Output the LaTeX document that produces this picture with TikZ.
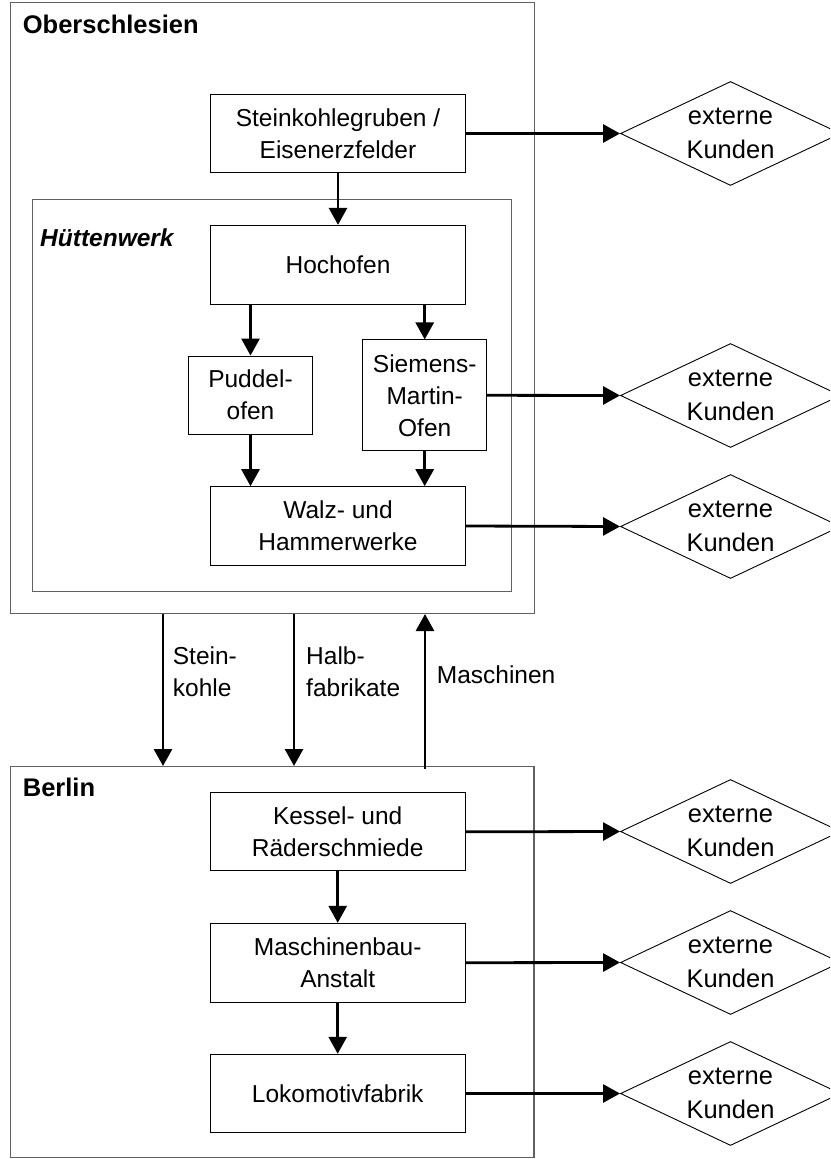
\documentclass[tikz,border=0pt]{standalone}
\usepackage{fontspec}
\setmainfont{Liberation Sans}
\usetikzlibrary{arrows.meta,shapes.geometric}
\begin{document}
\begin{tikzpicture}[x=1pt,y=-1pt,
  txt/.style={font=\fontsize{24.5}{32}\selectfont, align=center},
  ttl/.style={font=\fontsize{25.5}{32}\selectfont\bfseries, inner sep=0pt, anchor=base west},
  box/.style={draw=black, line width=1pt, inner sep=0pt, txt},
  area/.style={draw=black!62, line width=1.4pt, inner sep=0pt},
  kunde/.style={diamond, draw=black, line width=0.9pt, inner sep=0pt,
    minimum width=220pt, minimum height=104pt,
    label={[font=\fontsize{25.5}{34}\selectfont, align=center]center:{externe\\Kunden}}},
  flow/.style={line width=2.8pt, -{Triangle[length=17pt,width=18pt]}},
  lbl/.style={font=\fontsize{24.5}{32}\selectfont, align=left, inner sep=0pt}
]
\useasboundingbox (0,0) rectangle (830,1159);
\clip (0,0) rectangle (830,1159);

% containers
\node[area, minimum width=523.6pt, minimum height=610.6pt] (ober) at (272.5,308) {};
\node[area, minimum width=479.4pt, minimum height=392.4pt] (huette) at (272,395.5) {};
\node[area, minimum width=523.3pt, minimum height=390.8pt] (berlin) at (272.3,962.1) {};

\node[ttl] (tober) at (22.7,33.3) {Oberschlesien};
\node[ttl, font=\fontsize{24.5}{32}\selectfont\bfseries\itshape] (thuette) at (40,246.7) {Hüttenwerk};
\node[ttl] (tberlin) at (22.7,796.7) {Berlin};

% process boxes
\node[box, minimum width=255pt, minimum height=78.4pt] (sk) at (338,133.5) {Steinkohlegruben /\\Eisenerzfelder};
\node[box, minimum width=255pt, minimum height=78.7pt] (hoch) at (338,264.7) {Hochofen};
\node[box, minimum width=124.4pt, minimum height=78.3pt] (pud) at (250.5,395.2) {Puddel-\\ofen};
\node[box, minimum width=124pt, minimum height=110.7pt] (sm) at (424.7,395.3) {Siemens-\\Martin-\\Ofen};
\node[box, minimum width=255pt, minimum height=78.6pt] (walz) at (338,526) {Walz- und\\Hammerwerke};
\node[box, minimum width=255.3pt, minimum height=78.3pt] (kessel) at (337.7,831.8) {Kessel- und\\Räderschmiede};
\node[box, minimum width=255.3pt, minimum height=78.7pt] (mb) at (337.7,962.7) {Maschinenbau-\\Anstalt};
\node[box, minimum width=255.3pt, minimum height=78.4pt] (loko) at (337.7,1093.5) {Lokomotivfabrik};

% external customers
\node[kunde] (k1) at (730.5,133.5) {};
\node[kunde] (k2) at (730.5,395.5) {};
\node[kunde] (k3) at (730.5,526.5) {};
\node[kunde] (k4) at (730.5,831.5) {};
\node[kunde] (k5) at (730.5,962.5) {};
\node[kunde] (k6) at (730.5,1093.5) {};

% internal flows
\draw[flow] (sk.south) -- (hoch.north);
\draw[flow] (hoch.south -| pud.north) -- (pud.north);
\draw[flow] (hoch.south -| sm.north) -- (sm.north);
\draw[flow] (pud.south) -- (pud.south |- walz.north);
\draw[flow] (sm.south) -- (sm.south |- walz.north);
\draw[flow] (kessel.south) -- (mb.north);
\draw[flow] (mb.south) -- (loko.north);

% to external customers
\draw[flow] (sk.east) -- (k1.west);
\draw[flow] (sm.east) -- (k2.west);
\draw[flow] (walz.east) -- (k3.west);
\draw[flow] (kessel.east) -- (k4.west);
\draw[flow] (mb.east) -- (k5.west);
\draw[flow] (loko.east) -- (k6.west);

% between regions
\draw[flow] ([xshift=-109.5pt]ober.south) -- ([xshift=-109.3pt]berlin.north);
\draw[flow] ([xshift=21.5pt]ober.south) -- ([xshift=21.7pt]berlin.north);
\draw[flow] ([xshift=152.7pt,yshift=-3pt]berlin.north) -- ([xshift=152.5pt]ober.south);

\node[lbl, anchor=west] (l1) at (172.7,672) {Stein-\\kohle};
\node[lbl, anchor=west] (l2) at (306,672) {Halb-\\fabrikate};
\node[lbl, anchor=base west] (l3) at (436.7,683.3) {Maschinen};
\end{tikzpicture}
\end{document}
